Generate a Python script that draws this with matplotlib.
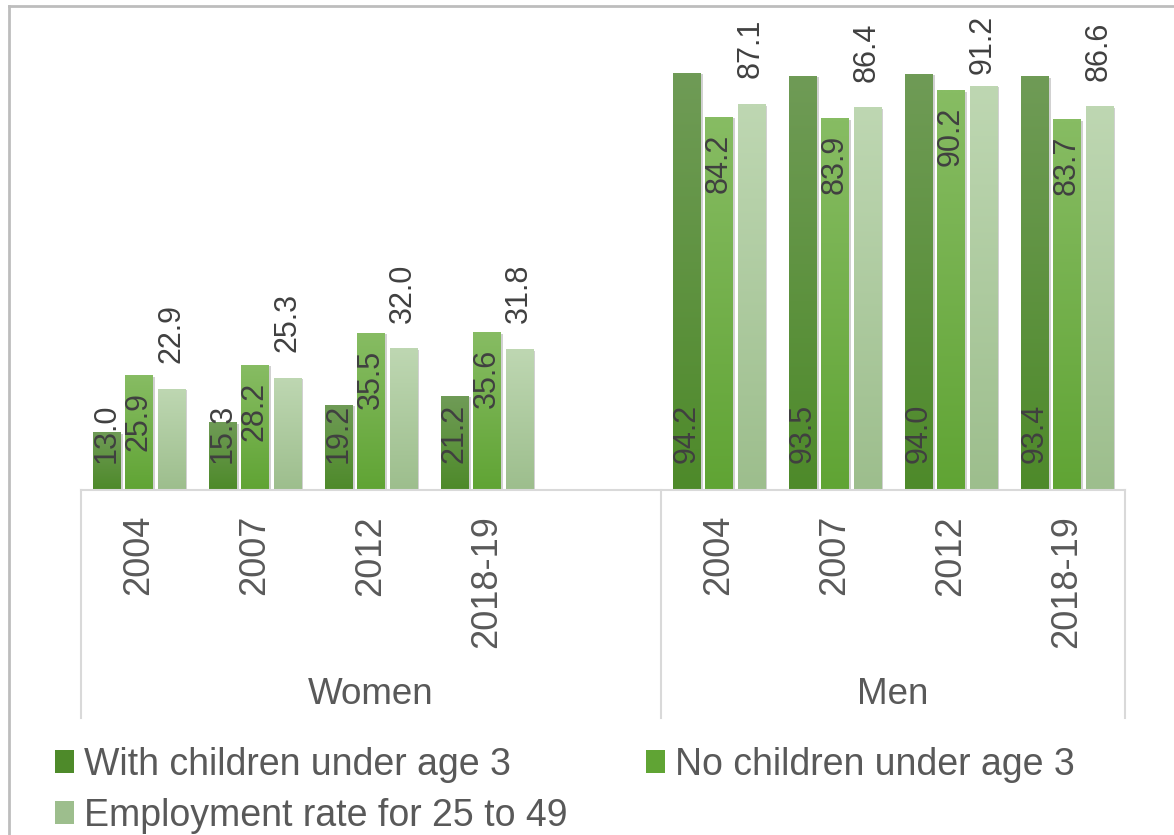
import numpy as np
import matplotlib
matplotlib.use("Agg")
import matplotlib.pyplot as plt
from matplotlib.lines import Line2D
from matplotlib.patches import Patch
from matplotlib import patheffects
from matplotlib.colors import to_rgb

plt.rcParams['font.family'] = ['Liberation Sans', 'DejaVu Sans']

# data
years = ['2004', '2007', '2012', '2018-19']
groups = ['Women', 'Men']
series = ['With children under age 3', 'No children under age 3',
          'Employment rate for 25 to 49']
with_kids_women = [13.0, 15.3, 19.2, 21.2]
with_kids_men = [94.2, 93.5, 94.0, 93.4]
no_kids_women = [25.9, 28.2, 35.5, 35.6]
no_kids_men = [84.2, 83.9, 90.2, 83.7]
employment_women = [22.9, 25.3, 32.0, 31.8]
employment_men = [87.1, 86.4, 91.2, 86.6]

# gradient colours (top, bottom) per series
grads = [('#6f9b56', '#4e8a2a'), ('#87bc63', '#60a434'), ('#bed7b2', '#9dbe8d')]
label_pos = ['base', 'inside_end', 'outside']

TXT = '#595959'
LBL = '#404040'

fig = plt.figure(figsize=(11.74, 8.35), dpi=100)
W, H = 1174, 835
ax = fig.add_axes([81 / W, (H - 490) / H, 1044 / W, 443 / H])

# women occupy slots 0..3, one blank slot, men 5..8
x_women = np.arange(len(years))
x_men = np.arange(len(years)) + len(years) + 1
xs = np.concatenate([x_women, x_men])
values = [with_kids_women + with_kids_men,
          no_kids_women + no_kids_men,
          employment_women + employment_men]

bw = 0.233
step = 0.276
shadow = [patheffects.SimplePatchShadow(offset=(1.5, -1), shadow_rgbFace='#9a9a9a', alpha=0.45),
          patheffects.Normal()]

ymax = 100
px_per_unit = 443 / ymax
label_fs = 22
label_len_pt = 1.946 * label_fs   # length of an "00.0" label
top_room_pt = (490 - 15) * 0.72   # label tops stay inside the chart area

for i, vals in enumerate(values):
    off = (i - 1) * step
    top, bot = to_rgb(grads[i][0]), to_rgb(grads[i][1])
    grad = np.linspace(0, 1, 64)[:, None, None]
    img = (np.array(top)[None, None, :] * (1 - grad) + np.array(bot)[None, None, :] * grad)
    bars = ax.bar(xs + off, vals, width=bw, color=grads[i][1], zorder=2)
    for b, v in zip(bars, vals):
        b.set_path_effects(shadow)
        x0 = b.get_x()
        im = ax.imshow(img, extent=(x0, x0 + bw, 0, v), aspect='auto',
                       zorder=2.5, interpolation='bilinear')
        im.set_clip_path(b)
        if label_pos[i] == 'base':
            ax.annotate(f'{v:.1f}', (x0 + bw / 2, 0), xytext=(0, 19.5),
                        textcoords='offset points', rotation=90, ha='center',
                        va='bottom', fontsize=label_fs, color=LBL, zorder=4)
        elif label_pos[i] == 'inside_end':
            ax.annotate(f'{v:.1f}', (x0 + bw / 2, v), xytext=(0, -12),
                        textcoords='offset points', rotation=90, ha='center',
                        va='top', fontsize=label_fs, color=LBL, zorder=4)
        else:
            bar_top_pt = v * px_per_unit * 0.72
            dy = min(18.5, top_room_pt - bar_top_pt - label_len_pt)
            ax.annotate(f'{v:.1f}', (x0 + bw / 2, v), xytext=(0, dy),
                        textcoords='offset points', rotation=90, ha='center',
                        va='bottom', fontsize=label_fs, color=LBL, zorder=4,
                        annotation_clip=False)

ax.set_xlim(-0.5, xs[-1] + 0.5)
ax.set_ylim(0, ymax)

ax.set_xticks(xs)
ax.set_xticklabels(years + years, rotation=90)
ax.tick_params(axis='x', length=0, pad=18, labelsize=26, labelcolor=TXT)
ax.set_yticks([])
for s in ['top', 'right', 'left']:
    ax.spines[s].set_visible(False)
ax.spines['bottom'].set_color('#d9d9d9')
ax.spines['bottom'].set_linewidth(1.5)

# group separators and labels
trans = ax.get_xaxis_transform()
for xv in [-0.5, x_women[-1] + 1.5, x_men[-1] + 0.5]:
    ax.add_line(Line2D([xv, xv], [0, -0.515], transform=trans, color='#d9d9d9',
                       lw=1.5, clip_on=False))
group_centers = [(-0.5 + x_women[-1] + 1.5) / 2, (x_women[-1] + 1.5 + x_men[-1] + 0.5) / 2]
for g, c in zip(groups, group_centers):
    ax.text(c, -0.4605, g, transform=trans, ha='center', va='center',
            fontsize=26.5, color=TXT)

# legend
handles = [Patch(facecolor=grads[i][1], edgecolor='none') for i in range(3)]
order = [0, 2, 1]
leg = fig.legend([handles[k] for k in order], [series[k] for k in order],
                 ncol=2, loc='upper left', bbox_to_anchor=(55 / W, 1 - 747 / H),
                 frameon=False, fontsize=27, handlelength=0.5, handleheight=0.55,
                 handletextpad=0.27, columnspacing=2.1, labelspacing=0.4,
                 borderpad=0, borderaxespad=0, labelcolor=TXT)

# outer chart border (left and top edges)
fig.add_artist(Line2D([9 / W, 9 / W], [0, 1 - 6 / H], transform=fig.transFigure,
                      color='#bdbdbd', lw=2))
fig.add_artist(Line2D([9 / W, 1], [1 - 6 / H, 1 - 6 / H], transform=fig.transFigure,
                      color='#bdbdbd', lw=2))

fig.savefig('out.png', dpi=100, facecolor='white')
